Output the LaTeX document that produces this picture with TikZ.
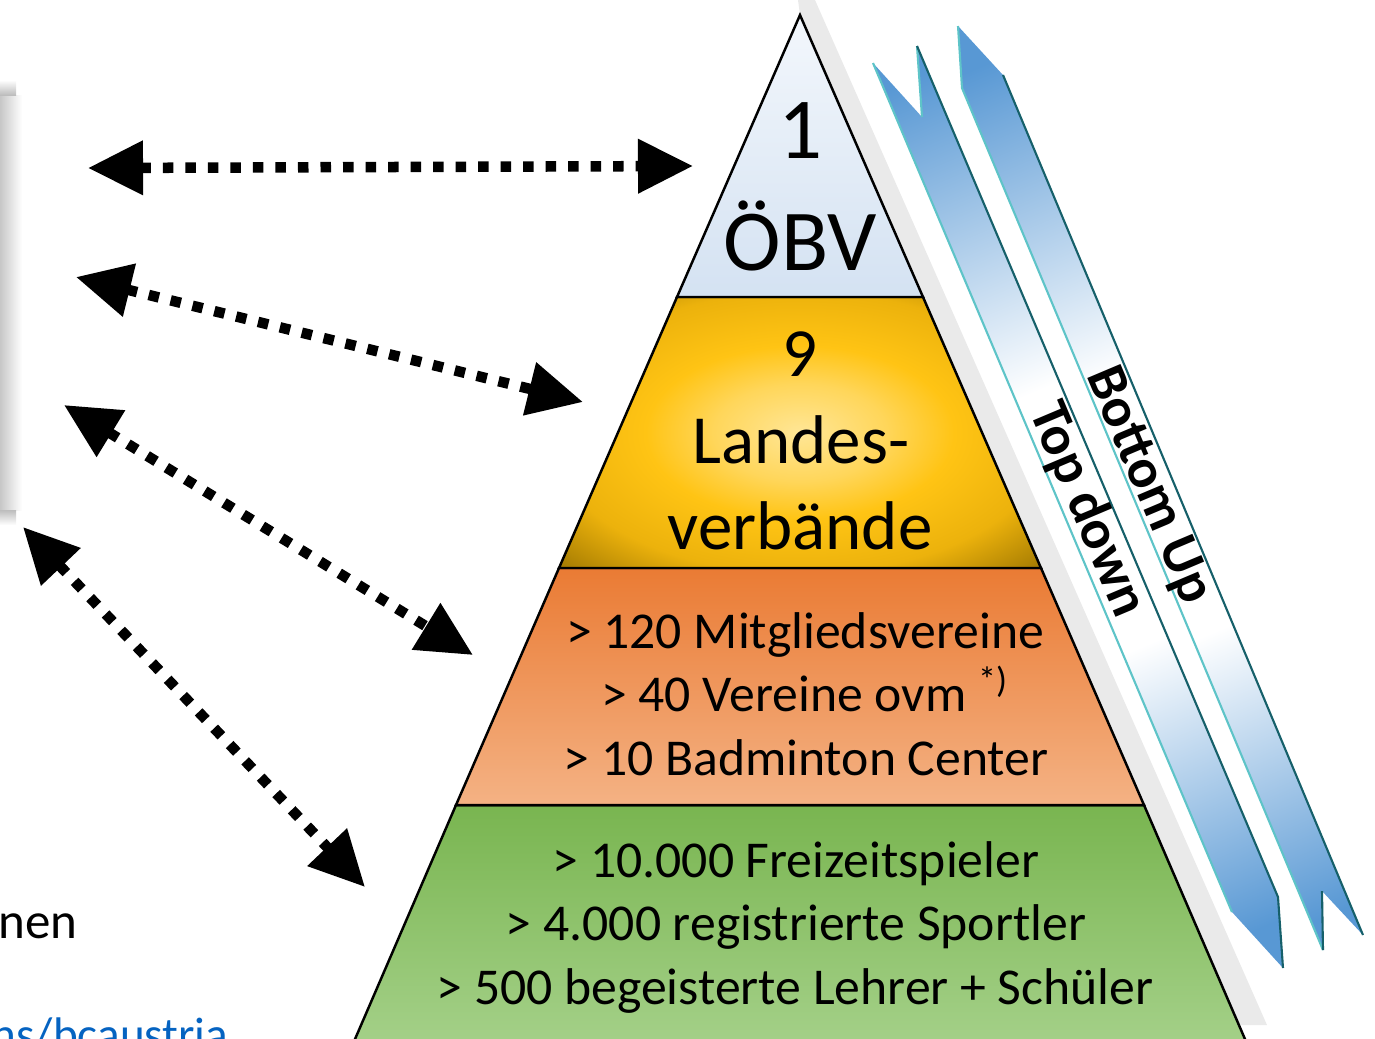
\documentclass[tikz,border=0pt]{standalone}
\usepackage{fontspec}
\setmainfont{Carlito}
\usetikzlibrary{positioning,calc,arrows.meta}
\definecolor{ribblue}{RGB}{88,152,212}
\definecolor{ribcyan}{RGB}{94,196,200}
\definecolor{ribdark}{RGB}{22,96,106}
\definecolor{obvtop}{RGB}{243,247,252}
\definecolor{obvbot}{RGB}{212,226,242}
\definecolor{goldlight}{RGB}{255,230,150}
\definecolor{goldsoft}{RGB}{255,214,90}
\definecolor{gold}{RGB}{255,196,20}
\definecolor{goldmid}{RGB}{236,178,12}
\definecolor{golddark}{RGB}{150,112,0}
\definecolor{lvtop}{RGB}{234,123,52}
\definecolor{lvbot}{RGB}{244,178,132}
\definecolor{grtop}{RGB}{121,181,80}
\definecolor{grbot}{RGB}{167,210,140}
\definecolor{shadowgray}{RGB}{234,234,234}
\definecolor{linkblue}{RGB}{5,99,193}
\pgfdeclareradialshading{goldglow}{\pgfpoint{0bp}{0bp}}{color(0bp)=(goldlight); color(9bp)=(goldsoft); color(16bp)=(gold); color(26bp)=(goldmid); color(37bp)=(golddark); color(50bp)=(golddark)}
\pgfdeclareverticalshading{ribbonfade}{100bp}{color(0bp)=(ribblue); color(20bp)=(ribblue); color(40bp)=(white); color(58bp)=(white); color(80bp)=(ribblue); color(100bp)=(ribblue)}
\tikzset{
	level/.style={draw=black, line width=0.7pt},
	ribbon/.style={shading=ribbonfade, shading angle=22.9},
	ribtext/.style={font=\fontsize{15.8}{19}\selectfont\bfseries, rotate=-67.1, inner sep=0pt},
	dotarrow/.style={line width=0.105cm, dash pattern=on 0.105cm off 0.12cm, {Triangle[length=0.55cm,width=0.52cm]}-{Triangle[length=0.55cm,width=0.52cm]}},
	tone/.style={font=\fontsize{24.7}{30}\selectfont, anchor=base, inner sep=0pt},
	ttwo/.style={font=\fontsize{19.6}{24}\selectfont, anchor=base, inner sep=0pt},
	tthree/.style={font=\fontsize{14.7}{18}\selectfont, anchor=base, inner sep=0pt},
	side/.style={font=\fontsize{14.5}{18}\selectfont, anchor=base east, inner sep=0pt}
}

\begin{document}
\begin{tikzpicture}[x=0.01cm, y=-0.01cm]
	\useasboundingbox (0,0) rectangle (1375,1038);
	\clip (0,0) rectangle (1375,1038);

	\shade[left color=black!22, middle color=black!30, right color=white] (0,95) rectangle (22,510);
	\shade[top color=white, bottom color=black!26] (0,80) rectangle (16,95);
	\shade[top color=black!26, bottom color=white] (0,510) rectangle (16,525);
	\fill[shadowgray] (798,0) -- (815,0) -- (1267,1025) -- (1150,1025) -- (800,15) -- cycle;

	\shade[ribbon] (873,63) -- (922,117) -- (917,46) -- (1278,897) -- (1283,968) -- (1232,912) -- cycle;
	\draw[ribcyan, line width=0.6pt] (922,117) -- (917,46);
	\draw[ribcyan, line width=0.6pt] (873,63) -- (1232,912);
	\draw[ribdark, line width=0.6pt] (917,46) -- (1278,897) -- (1283,968);

	\shade[ribbon] (958,26) -- (1003,75) -- (1363,935) -- (1322,891) -- (1323,950) -- (962,88) -- cycle;
	\draw[ribcyan, line width=0.6pt] (958,26) -- (962,88) -- (1323,950);
	\draw[ribdark, line width=0.6pt] (1003,75) -- (1363,935);
	\draw[ribdark, line width=0.6pt] (1322,891) -- (1323,950);

	\node[ribtext] (topdown) at (1087,510) {Top down};
	\node[ribtext] (bottomup) at (1148,486) {Bottom Up};

	\shadedraw[level, top color=grtop, bottom color=grbot] (456,805) -- (1144,805) -- (1254,1060) -- (346,1060) -- cycle;
	\shadedraw[level, top color=lvtop, bottom color=lvbot] (559,568) -- (1041,568) -- (1144,805) -- (456,805) -- cycle;
	\shadedraw[level, shading=goldglow] (677,297) -- (923,297) -- (1041,568) -- (559,568) -- cycle;
	\shadedraw[level, top color=obvtop, bottom color=obvbot] (800,15) -- (923,297) -- (677,297) -- cycle;

	\node[tone] (one) at (801,158) {1};
	\node[tone] (obv) at (800,270) {ÖBV};
	\node[ttwo] (nine) at (800,376) {9};
	\node[ttwo] (landes) at (801,463) {Landes-};
	\node[ttwo] (verb) at (800,549) {verbände};
	\node[tthree] (mitgl) at (805,648) {> 120 Mitgliedsvereine};
	\node[tthree] (ovm) at (805,711) {> 40 Vereine ovm \textsuperscript{*)}};
	\node[tthree] (center) at (806,775) {> 10 Badminton Center};
	\node[tthree] (frei) at (796,877) {> 10.000 Freizeitspieler};
	\node[tthree] (sportler) at (796,940) {> 4.000 registrierte Sportler};
	\node[tthree] (schule) at (795,1004) {> 500 begeisterte Lehrer + Schüler};

	\node[side] (nen) at (78,938) {nen};
	\node[side, font=\fontsize{13.4}{16}\selectfont, text=linkblue] (link) at (229,1050) {ns/bcaustria};

	\coordinate (out1) at (88,168);
	\coordinate (in1) at (693,166);
	\coordinate (out2) at (76,277);
	\coordinate (in2) at (583,402);
	\coordinate (out3) at (64,405);
	\coordinate (in3) at (473,655);
	\coordinate (out4) at (23,527);
	\coordinate (in4) at (365,887);

	\draw[dotarrow] (out1) -- (in1);
	\draw[dotarrow] (out2) -- (in2);
	\draw[dotarrow] (out3) -- (in3);
	\draw[dotarrow] (out4) -- (in4);
\end{tikzpicture}
\end{document}
